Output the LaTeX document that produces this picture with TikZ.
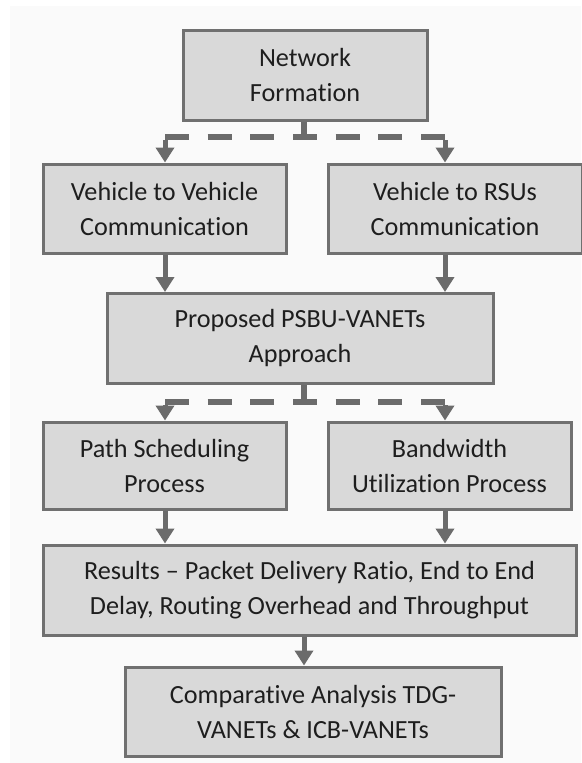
\documentclass[tikz,border=0pt]{standalone}
\usepackage{fontspec}
\setmainfont{Carlito}[Ligatures=NoCommon]
\usetikzlibrary{arrows.meta}
\definecolor{boxfill}{HTML}{D9D9D9}
\definecolor{boxline}{HTML}{707070}
\definecolor{arrowgray}{HTML}{6B6B6B}
\definecolor{bgray}{HTML}{FAFAFA}
\definecolor{txt}{HTML}{1E1E1E}
\begin{document}
\begin{tikzpicture}[x=1pt,y=-1pt,
  stepbox/.style={draw=boxline, line width=3pt, fill=boxfill, text=txt, align=center,
    inner sep=0pt, font=\fontsize{26.2}{35}\selectfont},
  flow/.style={draw=arrowgray, line width=5pt, -{Triangle[width=18pt,length=15pt]}},
  stub/.style={draw=arrowgray, line width=6pt},
  dashline/.style={draw=arrowgray, line width=6pt, dash pattern=on 24pt off 18.67pt}
]
\useasboundingbox (0,0) rectangle (581,763);
\fill[bgray] (10,6) rectangle (581,763);

\coordinate (xL) at (165,0);
\coordinate (xR) at (445,0);
\coordinate (xM) at (304,0);

\node[stepbox, minimum width=244pt, minimum height=90pt] (nf) at (305,75) {Network\\Formation};
\node[stepbox, minimum width=243pt, minimum height=89pt] (v2v) at (164.5,208.5) {Vehicle to Vehicle\\Communication};
\node[stepbox, minimum width=254pt, minimum height=89pt] (v2r) at (455,208.5) {Vehicle to RSUs\\Communication};
\node[stepbox, minimum width=386pt, minimum height=90pt] (prop) at (300,338.5) {Proposed PSBU-VANETs\\Approach};
\node[stepbox, minimum width=243pt, minimum height=87pt] (path) at (164.5,465.5) {Path Scheduling\\Process};
\node[stepbox, minimum width=243pt, minimum height=87pt] (bw) at (449.5,465.5) {Bandwidth\\Utilization Process};
\node[stepbox, minimum width=533pt, minimum height=90pt] (res) at (309.5,590) {Results -- Packet Delivery Ratio, End to End\\Delay, Routing Overhead and Throughput};
\node[stepbox, minimum width=376pt, minimum height=89pt] (comp) at (313,711.5) {Comparative Analysis TDG-\\VANETs \& ICB-VANETs};

% first split
\coordinate (j1) at (304,137);
\coordinate (j1l) at (165,137);
\coordinate (j1r) at (445,137);
\draw[stub] (nf.south -| j1) -- (j1);
\draw[dashline] (j1l) -- (j1r);
\draw[flow] ([yshift=-3pt]j1l) -- (v2v.north -| xL);
\draw[flow] ([yshift=-3pt]j1r) -- (v2r.north -| xR);

% merge into proposal
\draw[flow] (v2v.south -| xL) -- (prop.north -| xL);
\draw[flow] (v2r.south -| xR) -- (prop.north -| xR);

% second split
\coordinate (j2) at (304,402);
\coordinate (j2l) at (165,402);
\coordinate (j2r) at (445,402);
\draw[stub] (prop.south -| j2) -- (j2);
\draw[dashline] (j2l) -- (j2r);
\draw[flow] ([yshift=-3pt]j2l) -- (path.north -| xL);
\draw[flow] ([yshift=-3pt]j2r) -- (bw.north -| xR);

% into results
\draw[flow] (path.south -| xL) -- (res.north -| xL);
\draw[flow] (bw.south -| xR) -- (res.north -| xR);

% into comparison
\draw[flow] (res.south -| xM) -- (comp.north -| xM);
\end{tikzpicture}
\end{document}
